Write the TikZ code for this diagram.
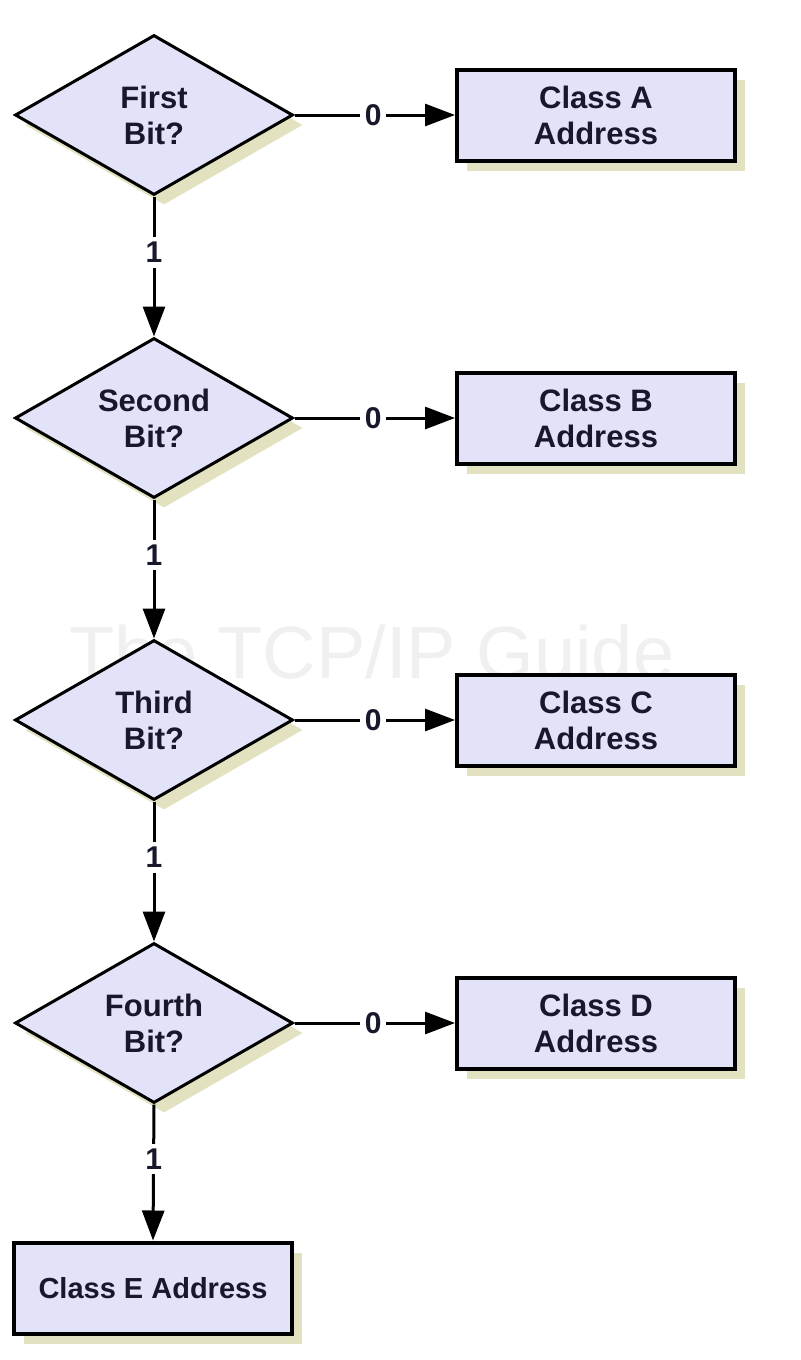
\documentclass[tikz,border=0pt]{standalone}
\usepackage{fontspec}
\setmainfont{Liberation Sans}
\usetikzlibrary{shapes.geometric,arrows.meta,shadows}
\definecolor{boxfill}{RGB}{226,226,248}
\definecolor{shadowc}{RGB}{226,226,192}
\definecolor{txt}{RGB}{24,24,44}
\tikzset{
  dia/.style={diamond, draw=black, line width=1.5pt, fill=boxfill, inner sep=0pt,
    minimum width=139pt, minimum height=80pt, shape aspect=1.74, align=center,
    font=\fontsize{15.5}{18}\selectfont\bfseries, text=txt,
    drop shadow={shadow xshift=5pt, shadow yshift=-5pt, fill=shadowc, opacity=1}},
  cls/.style={rectangle, draw=black, line width=2pt, fill=boxfill, inner sep=0pt,
    minimum width=139pt, minimum height=45.5pt, align=center,
    font=\fontsize{15.5}{18}\selectfont\bfseries, text=txt,
    drop shadow={shadow xshift=5pt, shadow yshift=-5pt, fill=shadowc, opacity=1}},
  conn/.style={line width=1.5pt, -{Triangle[length=15pt,width=11pt]}},
  lab/.style={fill=white, inner sep=2.5pt, font=\fontsize{15}{18}\selectfont\bfseries, text=txt}
}
\begin{document}
\begin{tikzpicture}[x=0.5pt,y=-0.5pt]
\useasboundingbox[fill=white] (0,0) rectangle (800,1360);
\node[text=black!6, inner sep=0pt, font=\fontsize{37}{40}\selectfont] (wm) at (372,652) {The TCP/IP Guide};
\node[dia] (d1) at (154,115) {First\\Bit?};
\node[dia] (d2) at (154,418) {Second\\Bit?};
\node[dia] (d3) at (154,720) {Third\\Bit?};
\node[dia] (d4) at (154,1023) {Fourth\\Bit?};
\node[cls] (ca) at (596,115) {Class A\\Address};
\node[cls] (cb) at (596,418) {Class B\\Address};
\node[cls] (cc) at (596,720) {Class C\\Address};
\node[cls] (cd) at (596,1023) {Class D\\Address};
\node[cls, font=\fontsize{14.5}{18}\selectfont\bfseries] (ce) at (153,1288) {Class E Address};
\foreach \d/\c in {d1/ca,d2/cb,d3/cc,d4/cd}{
  \draw[conn] (\d.east) -- node[lab, pos=0.49] {0} (\c.west);
}
\foreach \a/\b in {d1/d2,d2/d3,d3/d4,d4/ce}{
  \draw[conn] (\a.south) -- node[lab, pos=0.4] {1} (\b.north);
}
\end{tikzpicture}
\end{document}
